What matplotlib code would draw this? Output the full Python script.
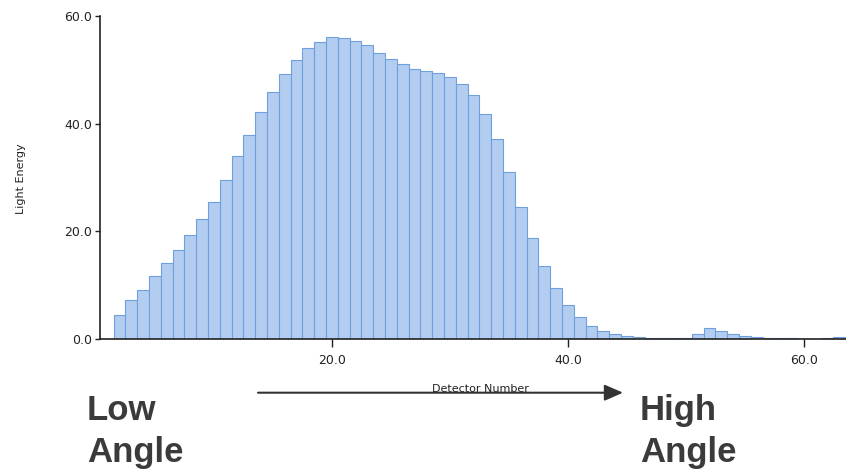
import matplotlib
matplotlib.use("Agg")
import matplotlib.pyplot as plt

# light energy per detector
detectors = list(range(2, 64))
energy = [4.4, 7.2, 9.1, 11.7, 14.1, 16.5, 19.4, 22.3, 25.4, 29.5,
          34.0, 37.9, 42.1, 45.8, 49.2, 51.9, 54.0, 55.2, 56.1, 56.0,
          55.3, 54.6, 53.2, 52.0, 51.0, 50.2, 49.8, 49.5, 48.7, 47.4,
          45.3, 41.8, 37.1, 31.0, 24.6, 18.7, 13.5, 9.5, 6.3, 4.0,
          2.5, 1.5, 1.0, 0.55, 0.3, 0.2, 0.12, 0.1, 0.1, 1.0,
          2.0, 1.45, 1.0, 0.65, 0.45, 0.25, 0.15, 0.1, 0.08, 0.08,
          0.1, 0.45]
yticks = [0, 20, 40, 60]
xticks = [20, 40, 60]

fig = plt.figure(figsize=(8.46, 4.71), dpi=100)
ax = fig.add_axes([100 / 846, 132 / 471, 746 / 846, 323 / 471])

ax.bar(detectors, energy, width=1.0, color="#b2cdf0",
       edgecolor="#6f9fdc", linewidth=0.8)

ax.set_xlim(0.34, 63.56)
ax.set_ylim(0, 60)
ax.set_yticks(yticks)
ax.set_xticks(xticks)
ax.set_yticklabels(["%.1f" % v for v in yticks])
ax.set_xticklabels(["%.1f" % v for v in xticks])

for s in ["top", "right"]:
    ax.spines[s].set_visible(False)
for s in ["left", "bottom"]:
    ax.spines[s].set_linewidth(1.2)
    ax.spines[s].set_color("#222222")

ax.tick_params(axis="y", length=3.5, width=1, pad=2, labelsize=9,
               colors="#222222")
ax.tick_params(axis="x", length=6, width=1, pad=5, labelsize=9,
               colors="#222222")

# axis labels
fig.text(21 / 846, 1 - 179 / 471, "Light Energy", rotation=90,
         ha="center", va="center", fontsize=8, color="#222222")
fig.text(480 / 846, 1 - 389 / 471, "Detector Number",
         ha="center", va="center", fontsize=8, color="#222222")

# arrow low -> high angle
ax.annotate("", xy=(623, 471 - 392.7), xytext=(258, 471 - 392.7),
            xycoords="figure pixels", textcoords="figure pixels",
            arrowprops=dict(arrowstyle="-|>,head_length=0.8,head_width=0.35",
                            mutation_scale=14, lw=1.5, color="#333333",
                            shrinkA=0, shrinkB=0))

big = dict(fontsize=25, fontweight="bold", color="#3b3b3b",
           family="Liberation Sans", va="baseline", ha="left")
fig.text(87 / 846, 51 / 471, "Low", **big)
fig.text(87 / 846, 9 / 471, "Angle", **big)
fig.text(640 / 846, 51 / 471, "High", **big)
fig.text(640 / 846, 9 / 471, "Angle", **big)

fig.savefig("out.png", dpi=100)
